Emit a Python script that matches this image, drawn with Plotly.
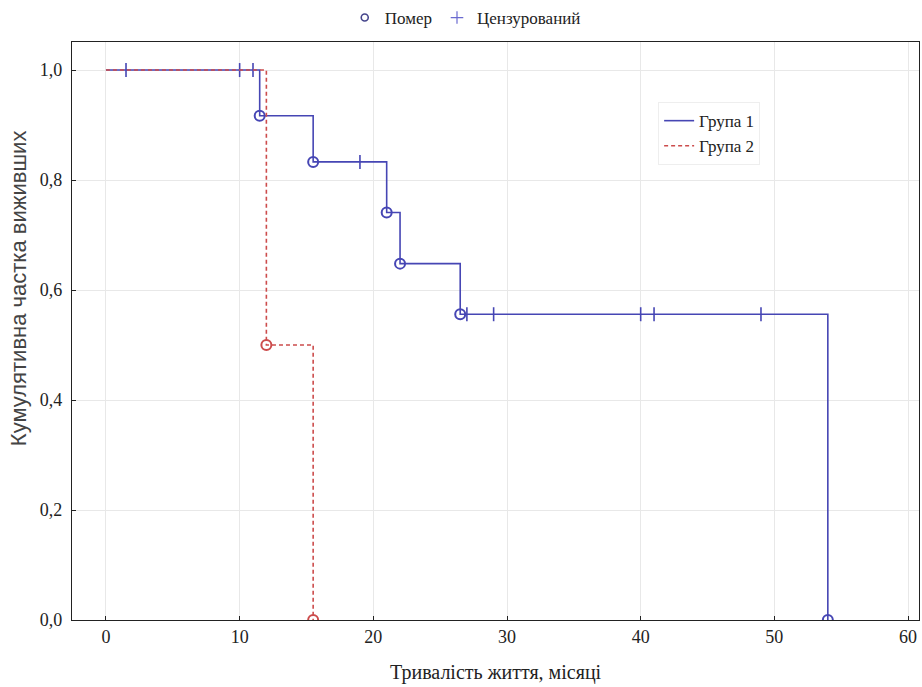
import plotly.graph_objects as go

# Group 1 (Kaplan-Meier step values)
g1_times = [0, 11.5, 15.5, 21.0, 22.0, 26.5, 54.0]
g1_surv = [1.0, 0.917, 0.833, 0.741, 0.648, 0.556, 0.0]
g1_event_times = [11.5, 15.5, 21.0, 22.0, 26.5, 54.0]
g1_censor_times = [1.5, 10.0, 11.0, 19.0, 27.0, 29.0, 40.0, 41.0, 49.0]

# Group 2
g2_times = [0, 12.0, 15.5]
g2_surv = [1.0, 0.5, 0.0]
g2_event_times = [12.0, 15.5]
g2_censor_times = []

x_ticks = [0, 10, 20, 30, 40, 50, 60]
y_ticks = [0.0, 0.2, 0.4, 0.6, 0.8, 1.0]

BLUE = "#4646b4"
RED = "#cc4c4c"
SERIF = "Liberation Serif"
SANS = "Liberation Sans Narrow, Liberation Sans, Arial"


def surv_at(t, times, surv):
    val = surv[0]
    for ti, si in zip(times, surv):
        if ti <= t:
            val = si
    return val


fig = go.Figure()

for name, times, surv, ev, cens, color, dash in [
    ("Група 1", g1_times, g1_surv, g1_event_times, g1_censor_times, BLUE, "solid"),
    ("Група 2", g2_times, g2_surv, g2_event_times, g2_censor_times, RED, "4px,3px"),
]:
    fig.add_trace(go.Scatter(
        x=times, y=surv, mode="lines", name=name, line_shape="hv",
        line=dict(color=color, width=1.6, dash=dash), legend="legend2",
    ))
    fig.add_trace(go.Scatter(
        x=ev, y=[surv_at(t, times, surv) for t in ev], mode="markers",
        marker=dict(symbol="circle-open", size=10, color=color, line=dict(width=2, color=color)),
        showlegend=False,
    ))
    if cens:
        fig.add_trace(go.Scatter(
            x=cens, y=[surv_at(t, times, surv) for t in cens], mode="markers",
            marker=dict(symbol="line-ns", size=10, color=color, line=dict(width=1.6, color=color)),
            showlegend=False,
        ))

# Top legend entries (marker meaning)
fig.add_trace(go.Scatter(
    x=[None], y=[None], mode="markers", name="Помер",
    marker=dict(symbol="circle-open", size=7, color="#46468c", line=dict(width=1.6, color="#46468c")),
    legend="legend",
))
fig.add_trace(go.Scatter(
    x=[None], y=[None], mode="markers", name="Цензурований",
    marker=dict(symbol="cross-thin", size=9, color="#6a6ad0", line=dict(width=1.2, color="#6a6ad0")),
    legend="legend",
))

axis_common = dict(
    showline=True, linecolor="#222222", linewidth=1.2, mirror=True,
    showgrid=True, gridcolor="#e8e8e8", gridwidth=1,
    ticks="inside", ticklen=4, tickcolor="#222222",
    tickfont=dict(family=SERIF, size=18, color="#222222"),
    zeroline=False,
)

fig.update_layout(
    width=922, height=687,
    margin=dict(l=72, r=3, t=42, b=67, autoexpand=False),
    paper_bgcolor="white", plot_bgcolor="white",
    separators=", ",
    font=dict(family=SERIF, size=18, color="#222222"),
    xaxis=dict(range=[-2.54, 60.82], tickvals=x_ticks, **axis_common),
    yaxis=dict(range=[0, 1.051], tickvals=y_ticks, tickformat=".1f",
               ticklabelstandoff=5, **axis_common),
    legend=dict(orientation="h", x=0.322, xanchor="left", y=1.0415, yanchor="middle",
                font=dict(family=SERIF, size=17), itemwidth=30, bgcolor="rgba(0,0,0,0)",
                tracegroupgap=0),
    legend2=dict(x=0.692, y=0.896, xanchor="left", yanchor="top",
                 font=dict(family=SERIF, size=17), bgcolor="white",
                 bordercolor="#eeeeee", borderwidth=1, itemwidth=30),
    annotations=[
        dict(text="Тривалість життя, місяці", xref="paper", yref="paper",
             x=0.5, y=-0.09, xanchor="center", yanchor="middle", showarrow=False,
             font=dict(family=SERIF, size=20, color="#222222")),
        dict(text="Кумулятивна частка виживших", xref="paper", yref="paper",
             x=-0.0638, y=0.574, xanchor="center", yanchor="middle", showarrow=False,
             textangle=-90, font=dict(family=SANS, size=22, color="#444444")),
    ],
)

fig.write_html("out.html")
